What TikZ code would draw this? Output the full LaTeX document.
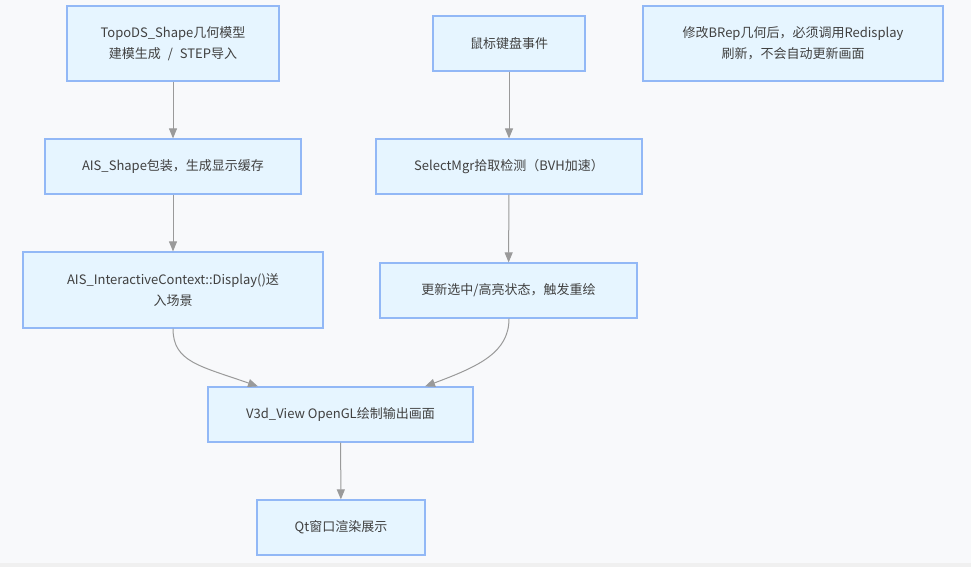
\documentclass[tikz,border=0pt]{standalone}
\usepackage{fontspec}
\setmainfont{Noto Sans CJK SC}
\usetikzlibrary{arrows.meta}
\definecolor{bgc}{HTML}{F8F9FB}
\definecolor{boxfill}{HTML}{E6F5FF}
\definecolor{boxline}{HTML}{92B8F6}
\definecolor{linkc}{HTML}{9A9A9A}
\tikzset{
  stepbox/.style={draw=boxline,fill=boxfill,line width=1.2pt,align=center,inner sep=0pt,
    font=\fontsize{13}{21}\selectfont,text=black!75},
  link/.style={draw=linkc,line width=1pt,-{Triangle[length=10pt,width=8pt]}}
}
\begin{document}
\begin{tikzpicture}[x=1pt,y=-1pt]
\fill[bgc](0,0)rectangle(971,567);\useasboundingbox(0,0)rectangle(971,567);
\fill[black!6](0,563)rectangle(971,567);
\node[stepbox,minimum width=212,minimum height=75](topo)at(173,43.5){TopoDS\_Shape几何模型\\建模生成\hspace{4pt} / \hspace{4pt}STEP导入};
\node[stepbox,minimum width=152,minimum height=55](mouse)at(509,43.5){鼠标键盘事件};
\node[stepbox,minimum width=300,minimum height=75](note)at(793,43.5){修改BRep几何后，必须调用Redisplay\\刷新，不会自动更新画面};
\node[stepbox,minimum width=256,minimum height=55](ais)at(173,166.5){AIS\_Shape包装，生成显示缓存};
\node[stepbox,minimum width=266,minimum height=55](sel)at(509,166.5){SelectMgr拾取检测（BVH加速）};
\node[stepbox,minimum width=300,minimum height=76](ctx)at(173,290){AIS\_InteractiveContext::Display()送\\入场景};
\node[stepbox,minimum width=257,minimum height=55](hl)at(508.5,290.5){更新选中/高亮状态，触发重绘};
\node[stepbox,minimum width=265,minimum height=55](view)at(340.5,414.5){V3d\_View OpenGL绘制输出画面};
\node[stepbox,minimum width=168,minimum height=55](qt)at(341,527.5){Qt窗口渲染展示};
% connectors
\draw[link](topo)--(ais);\draw[link](ais)--(ctx);\draw[link](mouse)--(sel);\draw[link](sel)--(hl);\draw[link](view)--(qt);
\draw[link](ctx.south)..controls(173,362)and(200,366)..(view.north-|258,0);
\draw[link](hl.south-|509,0)..controls(509,352)and(480,366)..(view.north-|425,0);
\end{tikzpicture}
\end{document}
